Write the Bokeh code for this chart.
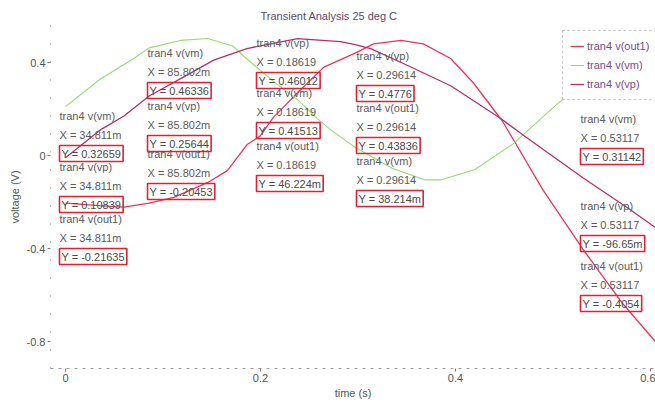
from bokeh.plotting import figure
from bokeh.models import Label, Legend, LegendItem, Range1d, FixedTicker
from bokeh.embed import file_html
from bokeh.resources import INLINE

# ---------------- data ----------------
t_out1 = [0, 0.035, 0.06, 0.0858, 0.111, 0.146, 0.166, 0.186, 0.2, 0.213, 0.238,
          0.265, 0.296, 0.316, 0.344, 0.367, 0.395, 0.418, 0.436, 0.449, 0.49,
          0.531, 0.572, 0.605]
v_out1 = [-0.205, -0.216, -0.222, -0.205, -0.18, -0.116, -0.065, 0.046, 0.085,
          0.163, 0.27, 0.38, 0.438, 0.48, 0.495, 0.48, 0.417, 0.314, 0.215,
          0.142, -0.15, -0.405, -0.64, -0.80]

t_vp = [0, 0.035, 0.06, 0.0858, 0.12, 0.152, 0.186, 0.238, 0.282, 0.296, 0.313,
        0.351, 0.395, 0.446, 0.47, 0.531, 0.576, 0.605]
v_vp = [-0.01, 0.108, 0.17, 0.256, 0.335, 0.41, 0.46, 0.503, 0.49, 0.478, 0.46,
        0.387, 0.30, 0.16, 0.086, -0.097, -0.224, -0.31]

t_vm = [0, 0.035, 0.07, 0.0858, 0.118, 0.146, 0.172, 0.186, 0.213, 0.238, 0.258,
        0.272, 0.296, 0.335, 0.369, 0.385, 0.42, 0.459, 0.505, 0.531, 0.56, 0.605]
v_vm = [0.21, 0.327, 0.417, 0.463, 0.495, 0.503, 0.47, 0.415, 0.32, 0.24, 0.16,
        0.11, 0.038, -0.055, -0.105, -0.105, -0.06, 0.05, 0.224, 0.311, 0.40, 0.47]

# data-tip (marker) readouts
tip_t = [0.034811, 0.085802, 0.18619, 0.29614, 0.53117]
tip_out1 = [-0.21635, -0.20453, 0.046224, 0.43836, -0.4054]
tip_vm = [0.32659, 0.46336, 0.41513, 0.038214, 0.31142]
tip_vp = [0.10839, 0.25644, 0.46012, 0.4776, -0.09665]

names = {"out1": "tran4 v(out1)", "vm": "tran4 v(vm)", "vp": "tran4 v(vp)"}
tips = {"out1": tip_out1, "vm": tip_vm, "vp": tip_vp}

y_ticks = [0.4, 0, -0.4, -0.8]
y_tick_labels = {0.4: "0.4", 0: "0", -0.4: "-0.4", -0.8: "-0.8"}
x_ticks = [0, 0.2, 0.4, 0.6]
x_tick_labels = {0: "0", 0.2: "0.2", 0.4: "0.4", 0.6: "0.6"}
title_text = "Transient Analysis  25 deg C"

# ---------------- styling ----------------
C_OUT1 = "#e8365a"
C_VM = "#96dc74"
C_VP = "#b3306e"
FONT = "Liberation Sans"
TXT = "#4a4a4a"

# Bokeh's page template sets the body margin to 0: canvas starts at (0, 0)
W, H = 655, 407
XS = 975.0     # px per second
YS = 232.5     # px per volt
X0, Y0 = 65, 155   # canvas px of t=0, v=0
FL, FR, FT, FB = 50, 655, 25, 368   # frame edges (canvas px)

p = figure(width=W, height=H, output_backend="svg", toolbar_location=None,
           x_range=Range1d((FL - X0) / XS, (FR - X0) / XS),
           y_range=Range1d((Y0 - FB) / YS, (Y0 - FT) / YS),
           min_border_left=FL, min_border_right=W - FR,
           min_border_top=FT, min_border_bottom=H - FB)
p.background_fill_color = "white"
p.border_fill_color = "white"
p.outline_line_color = None
p.xgrid.grid_line_color = None
p.ygrid.grid_line_color = None

p.title.text = title_text
p.title.text_font = FONT
p.title.text_font_size = "11px"
p.title.text_font_style = "normal"
p.title.text_color = "#5a4a6a"
p.title.align = "left"
p.title.offset = 260 - FL
p.title.standoff = 7

p.yaxis.ticker = FixedTicker(ticks=y_ticks)
p.yaxis.major_label_overrides = y_tick_labels
p.xaxis.ticker = FixedTicker(ticks=x_ticks)
p.xaxis.major_label_overrides = x_tick_labels
for ax in (p.xaxis[0], p.yaxis[0]):
    ax.major_label_text_font = FONT
    ax.major_label_text_font_size = "11px"
    ax.major_label_text_color = "#555555"
    ax.axis_label_text_font = FONT
    ax.axis_label_text_font_size = "11px"
    ax.axis_label_text_font_style = "normal"
    ax.axis_label_text_color = "#555555"
    ax.major_tick_line_color = "#777777"
    ax.major_tick_out = 3
    ax.major_tick_in = 0
    ax.minor_tick_line_color = None
    ax.axis_line_color = "#999999"
    ax.major_label_standoff = 2
p.yaxis.axis_line_dash = "1 17"
p.xaxis.axis_line_dash = "3 5"
p.yaxis.axis_label = "voltage (V)"
p.xaxis.axis_label = "time (s)"
p.yaxis.axis_label_standoff = 3
p.xaxis.axis_label_standoff = 2

r_out1 = p.line(t_out1, v_out1, line_color=C_OUT1, line_width=1.3)
r_vm = p.line(t_vm, v_vm, line_color=C_VM, line_width=1.1)
r_vp = p.line(t_vp, v_vp, line_color=C_VP, line_width=1.3)

legend = Legend(items=[LegendItem(label=names["out1"], renderers=[r_out1]),
                       LegendItem(label=names["vm"], renderers=[r_vm]),
                       LegendItem(label=names["vp"], renderers=[r_vp])],
                location=(562 - FL, FB - 100))
legend.label_text_font = FONT
legend.label_text_font_size = "11px"
legend.label_text_color = "#7a4a8c"
legend.glyph_width = 14
legend.glyph_height = 16
legend.label_height = 16
legend.spacing = 3
legend.padding = 7
legend.margin = 0
legend.label_standoff = 3
legend.border_line_color = "#999999"
legend.border_line_dash = "1 2"
legend.background_fill_color = "white"
legend.background_fill_alpha = 1.0
p.add_layout(legend)


# canvas-pixel -> data helpers (layout of annotations only)
def px2x(px):
    return (px - X0) / XS


def py2y(py):
    return (Y0 - py) / YS


def fmt(v):
    if abs(v) < 0.1:
        return "%.5gm" % (v * 1000)
    return "%.5g" % v


# data-tip groups: left edge, series order and top-line position (canvas px)
groups = [
    (59, [("vm", 115), ("vp", 166), ("out1", 218)]),
    (147, [("vm", 52), ("vp", 105), ("out1", 153)]),
    (256, [("vp", 42), ("vm", 92), ("out1", 145)]),
    (356, [("vp", 55), ("out1", 107), ("vm", 160)]),
    (580, [("vm", 118), ("vp", 205), ("out1", 265)]),
]

for gi, (left, entries) in enumerate(groups):
    for key, ny in entries:
        for txt, yy, boxed in ((names[key], ny, False),
                               ("X = " + fmt(tip_t[gi]), ny + 19, False),
                               ("Y = " + fmt(tips[key][gi]), ny + 38, True)):
            kw = dict(x=px2x(left), y=py2y(yy), text=txt,
                      text_font=FONT, text_font_size="11px",
                      text_color=TXT if boxed else "#5a5a5a",
                      text_align="left", text_baseline="middle")
            if boxed:
                kw.update(border_line_color="#e02035", border_line_width=1.6,
                          background_fill_color=None, padding=2)
            p.add_layout(Label(**kw))

open("out.html", "w").write(file_html(p, INLINE))
